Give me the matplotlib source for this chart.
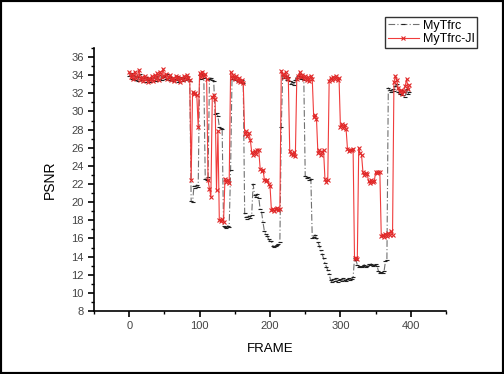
import numpy as np
import matplotlib
matplotlib.use('Agg')
from matplotlib import pyplot as plt
from matplotlib.patches import Rectangle
from matplotlib.ticker import MultipleLocator

plt.rcParams['font.family'] = ['Liberation Sans', 'DejaVu Sans']

# frames sampled every 2
frames = np.arange(0, 400, 2)

tfrc_ji = [34.3, 33.8, 34.1, 33.6, 34.4, 33.7, 33.9, 34.6, 33.5, 33.8, 33.4, 33.9, 33.6, 33.3, 33.7,
           33.5, 33.9, 33.4, 34.0, 33.6, 34.2, 33.5, 34.4, 33.8, 34.7, 33.9, 34.1, 33.6, 33.8, 34.0,
           33.5, 33.7, 33.4, 33.9, 33.6, 33.8, 33.2, 33.7, 33.5, 33.9, 33.6, 34.0, 33.7, 33.5,
           22.5,
           32.1, 31.9, 32.0, 31.8, 28.3,
           34.2, 33.8, 34.4, 33.9, 34.1, 33.6,
           22.4, 21.5, 20.6,
           31.6, 31.8, 31.4,
           21.3, 27.9, 18.0,
           17.9, 18.1, 17.8,
           22.6, 22.2, 22.5, 22.1,
           34.3, 33.7, 34.0, 33.6, 33.9, 33.4, 33.7, 33.2, 33.5, 33.1,
           27.5, 27.8, 27.3, 27.6, 26.9,
           25.5, 25.2, 25.6, 25.3, 25.8, 25.7,
           23.7, 23.4, 23.6,
           22.5, 22.3, 22.4, 22.0,
           21.8,
           19.1, 19.3, 19.0, 19.2, 19.4, 19.1, 19.3,
           34.5,
           34.1, 33.8, 34.3, 33.9, 33.6,
           25.6, 25.3, 25.2, 25.5, 25.1,
           33.6, 33.9, 34.3, 33.8, 34.0, 33.6, 33.9, 33.5, 33.8, 33.4, 33.9, 33.6,
           29.4, 29.6, 29.2,
           25.4, 25.7, 25.2, 25.5, 25.8,
           22.6, 22.2, 22.4,
           33.4, 33.7, 33.5, 33.8, 33.6, 33.9, 33.5, 33.7,
           28.3, 28.6, 28.2, 28.5, 28.1,
           25.9, 25.6, 25.8, 25.7, 25.9,
           13.8, 13.9, 13.7,
           26.0, 25.4, 25.2,
           23.3, 23.0, 23.2, 23.1,
           22.3, 22.1, 22.4, 22.2, 22.3,
           23.3, 23.2, 23.3, 23.3,
           16.3, 16.4, 16.2, 16.5, 16.3, 16.6, 16.4, 16.8, 16.4,
           33.2, 33.9, 33.5, 32.6, 32.1, 32.4, 31.9, 32.3, 32.8, 33.6, 32.5, 32.9]

tfrc = [33.9, 34.2, 33.6, 34.0, 33.5, 33.9, 33.4, 33.8, 34.1, 33.5, 33.7, 33.3, 33.8, 33.5, 33.6,
        33.2, 33.7, 33.5, 33.8, 33.4, 33.9, 33.6, 34.0, 33.5, 33.8, 33.9, 33.6, 34.1, 33.5, 33.7,
        33.8, 33.4, 33.6, 33.5, 33.9, 33.3, 33.6, 33.8, 33.4, 33.7, 33.5, 33.9, 33.6, 33.4,
        20.1,
        20.0, 21.8, 21.6, 21.9, 21.7,
        34.0, 33.6, 34.1, 33.7, 22.6, 22.5,
        22.8, 33.6, 33.7,
        33.5, 33.4, 29.7,
        29.8, 29.5, 28.3,
        28.2, 28.1, 17.4,
        17.3, 17.2, 17.4, 17.3,
        23.5, 33.6, 33.9, 33.5, 33.8, 33.4, 33.6, 33.2, 33.5, 33.1,
        18.8, 18.4, 18.2, 18.5, 18.3,
        18.6, 22.0, 20.8, 20.6, 20.9, 20.5,
        19.2, 18.9, 17.8,
        16.8, 16.5, 16.3, 15.9,
        15.7,
        15.7, 15.2, 15.1, 15.2, 15.3, 15.4, 15.6,
        28.3,
        34.0, 33.7, 33.9, 33.5, 33.8,
        33.4, 33.0, 33.3, 32.9, 33.5,
        33.7, 33.9, 34.1, 33.6, 33.8, 33.5, 22.9, 22.7, 22.8, 22.5, 22.6, 16.0,
        16.2, 16.4, 16.1,
        15.6, 15.2, 14.7, 14.3, 13.8,
        13.3, 12.9, 12.5,
        12.1, 11.4, 11.2, 11.5, 11.3, 11.6, 11.2, 11.4,
        11.5, 11.3, 11.6, 11.4, 11.3,
        11.5, 11.6, 11.4, 11.5, 11.7,
        13.8, 13.6, 13.1,
        12.9, 13.0, 12.8,
        13.0, 13.1, 12.9, 13.0,
        13.2, 13.1, 13.2, 13.0, 13.1,
        13.2, 13.0, 12.4, 12.2,
        12.3, 12.2, 12.4, 13.5, 13.6, 32.6, 32.4, 32.2, 32.5,
        32.3, 32.8, 33.0, 32.1, 31.9, 32.4, 31.8, 32.2, 31.6, 32.5, 31.9, 32.2]

fig = plt.figure(figsize=(5.04, 3.74), dpi=100)
ax = fig.add_axes([0.1865, 0.1684, 0.6985, 0.7033])

l1, = ax.plot(frames, tfrc, color='#707070', linestyle=(0, (6, 2, 1, 2)), linewidth=0.8,
              marker='_', markersize=3, markeredgecolor='#202020', markeredgewidth=0.8,
              label='MyTfrc')
l2, = ax.plot(frames, tfrc_ji, color='#f03c3c', linewidth=0.8,
              marker='x', markersize=3.5, markeredgecolor='#e02828', markeredgewidth=0.8,
              label='MyTfrc-JI')

ax.set_xlim(-50, 450)
ax.set_ylim(8, 37)
ax.xaxis.set_major_locator(MultipleLocator(100))
ax.xaxis.set_minor_locator(MultipleLocator(50))
ax.yaxis.set_major_locator(MultipleLocator(2))
ax.yaxis.set_minor_locator(MultipleLocator(1))
ax.spines['top'].set_visible(False)
ax.spines['right'].set_visible(False)
ax.spines['left'].set_linewidth(1.2)
ax.spines['bottom'].set_linewidth(1.2)
ax.tick_params(which='major', direction='out', length=4, width=1.2, labelsize=8,
               labelcolor='#444444')
ax.tick_params(which='minor', direction='out', length=2.5, width=1.0)

ax.set_xlabel('FRAME', fontsize=9.5, labelpad=8)
ax.set_ylabel('PSNR', fontsize=10, labelpad=10)

fig.legend(handles=[l1, l2], loc='upper left', bbox_to_anchor=(385/504, 1 - 17/374),
           fontsize=9, frameon=True, fancybox=False, edgecolor='black',
           borderpad=0.2, labelspacing=0.15, handlelength=2.5, handletextpad=0.3,
           borderaxespad=0)

fig.patches.append(Rectangle((0, 0), 1, 1, transform=fig.transFigure, fill=False,
                             edgecolor='black', linewidth=3))

fig.savefig('out.png', dpi=100)
